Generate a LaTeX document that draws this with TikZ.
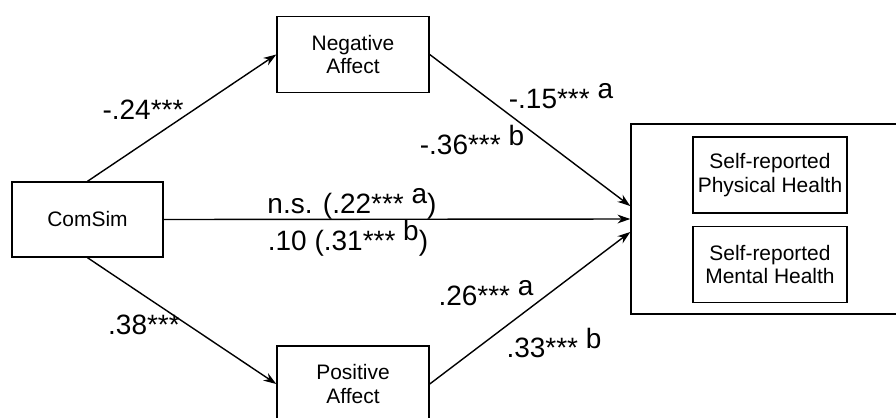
\documentclass[tikz,border=0pt]{standalone}
\usepackage{fontspec}
\setmainfont{Liberation Sans}
\usetikzlibrary{positioning, arrows.meta, calc}
\newcommand{\grp}[1]{\raisebox{0.65ex}{#1}}

\begin{document}
\begin{tikzpicture}[x=0.025cm, y=-0.025cm, line width=1pt,
  box/.style={draw, line width=1pt, minimum width=3.8cm, minimum height=1.9cm, align=center, font=\fontsize{14.9}{16.5}\selectfont},
  coef/.style={inner sep=0pt, font=\fontsize{19.9}{22}\selectfont},
  link/.style={-{Stealth[length=0.32cm, width=0.22cm]}, line width=1pt}]
\useasboundingbox (0,0) rectangle (896,417);
\clip (0,0) rectangle (896,417);

% variables
\node[box, minimum width=3.775cm, minimum height=1.875cm] (comsim) at (87.5,219.5) {ComSim};
\node[box] (neg) at (353,54.5) {Negative\\Affect};
\node[box] (pos) at (353,384) {Positive\\Affect};

% outcomes
\node[draw, line width=1pt, minimum width=6.95cm, minimum height=4.75cm] (health) at (770,219) {};
\node[box, minimum width=3.85cm] (phys) at (770,175) {Self-reported\\Physical Health};
\node[box, minimum width=3.85cm, below=0.3cm of phys] (ment) {Self-reported\\Mental Health};

% paths
\draw[link] (comsim.north) -- (neg.west);
\draw[link] (comsim.south) -- (pos.west);
\draw[link] (comsim.east) -- (health.west);
\draw[link] (neg.east) -- ($(health.west)+(0,-13)$);
\draw[link] (pos.east) -- ($(health.west)+(0,13)$);

% coefficients
\node[coef] (c1) at (143,110) {-.24***};
\node[coef] (c2) at (144,325) {.38***};
\node[coef] (c3) at (561,96) {-.15*** \grp{a}};
\node[coef] (c4) at (472,140) {-.36*** \grp{b}};
\node[coef] (c5) at (352,204) {n.s. (.22*** \grp{a})};
\node[coef] (c6) at (348,238) {.10 (.31*** \grp{b})};
\node[coef] (c7) at (486,293) {.26*** \grp{a}};
\node[coef] (c8) at (554,343) {.33*** \grp{b}};
\end{tikzpicture}
\end{document}
